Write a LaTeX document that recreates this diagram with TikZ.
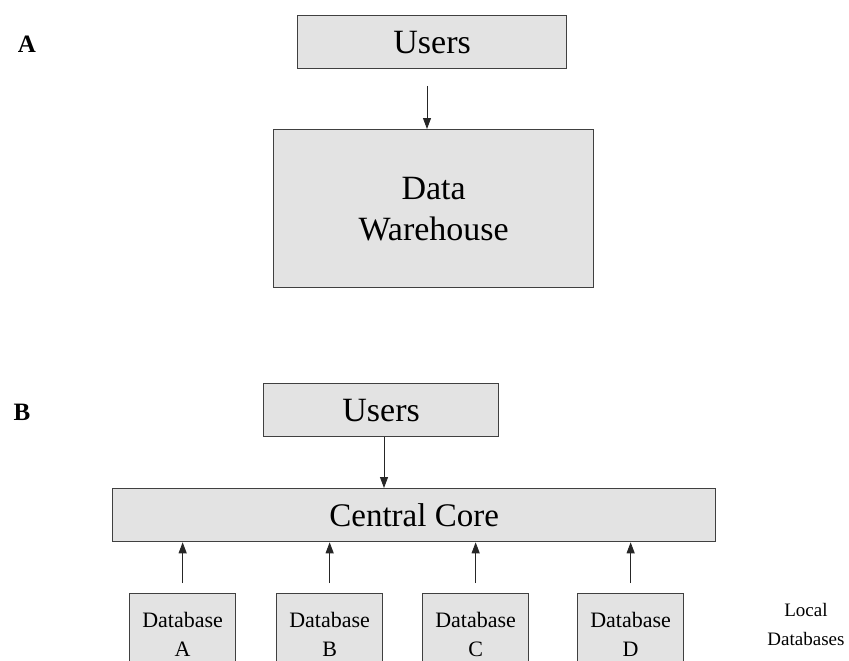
\documentclass[tikz,border=0pt]{standalone}
\usepackage{fontspec}
\setmainfont{Liberation Serif}
\usetikzlibrary{arrows.meta}
\begin{document}
\begin{tikzpicture}[x=1pt,y=-1pt,
  box/.style={draw=black!75,line width=1.3pt,fill=black!11,inner sep=0pt,anchor=north west},
  conn/.style={line width=0.9pt,black!85,-{Triangle[length=11pt,width=8pt]}},
  lbl/.style={font=\fontsize{25}{28}\selectfont\bfseries}]
\clip (0,0) rectangle (849,661);
\fill[white] (0,0) rectangle (849,661);
% Panel A
\node[lbl] (la) at (27,44) {A};
\node[box,minimum width=269pt,minimum height=53pt,font=\fontsize{34}{36}\selectfont] (ua) at (297,15) {Users};
\node[box,minimum width=320pt,minimum height=158pt,align=center,font=\fontsize{34}{41}\selectfont] (dw) at (273,129) {Data\\Warehouse};
\draw[conn] (427,86) coordinate (a0) -- (dw.north -| a0);
% Panel B
\node[lbl] (lb) at (22,412) {B};
\node[box,minimum width=235pt,minimum height=53pt,font=\fontsize{34}{36}\selectfont] (ub) at (263,383) {Users};
\node[box,minimum width=603pt,minimum height=53pt,font=\fontsize{33}{36}\selectfont] (cc) at (112,488) {Central Core};
\draw[conn] (ub.south -| 384,0) coordinate (b0) -- (cc.north -| b0);
\foreach \n/\x/\l in {da/129/A,db/276/B,dc/422/C,dd/577/D}{
  \node[box,minimum width=106pt,minimum height=82pt,align=center,font=\fontsize{22}{29}\selectfont] (\n) at (\x,593) {Database\\\l};
  \coordinate (\n t) at ([yshift=10pt]\n.north);
  \draw[conn] (\n t) -- (\n t |- cc.south);
}
\node[align=center,font=\fontsize{19}{29}\selectfont] (ld) at (806,624) {Local\\Databases};
\end{tikzpicture}
\end{document}
